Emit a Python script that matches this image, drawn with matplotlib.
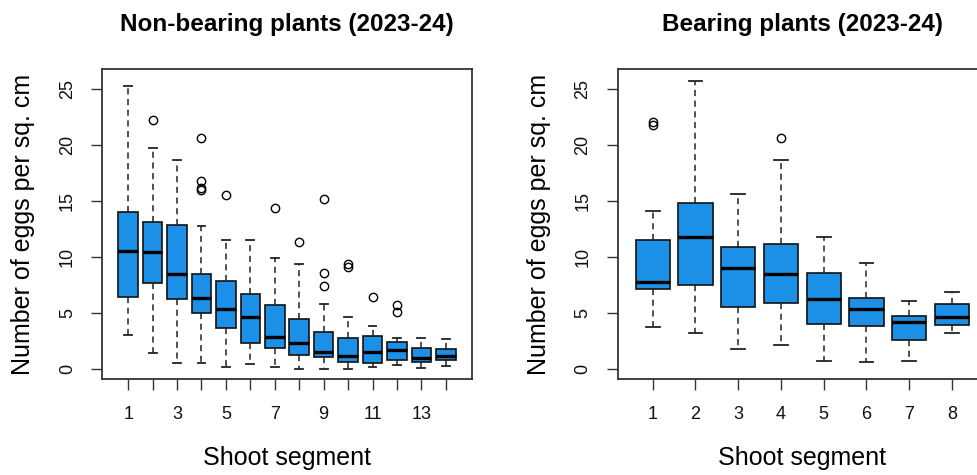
import matplotlib
matplotlib.use("Agg")
import matplotlib.pyplot as plt

# Non-bearing plants, 14 shoot segments
nb_segments = list(range(1, 15))
nb_whislo = [3.0, 1.46, 0.54, 0.54, 0.21, 0.45, 0.15, 0.0, 0.0, 0.0, 0.21, 0.33, 0.09, 0.24]
nb_q1 = [6.43, 7.65, 6.22, 4.97, 3.66, 2.29, 1.87, 1.25, 1.1, 0.63, 0.57, 0.83, 0.65, 0.83]
nb_med = [10.57, 10.48, 8.5, 6.34, 5.33, 4.64, 2.89, 2.29, 1.55, 1.16, 1.52, 1.7, 0.95, 1.19]
nb_q3 = [14.05, 13.1, 12.9, 8.5, 7.89, 6.73, 5.68, 4.5, 3.33, 2.8, 2.92, 2.38, 1.87, 1.76]
nb_whishi = [25.27, 19.73, 18.63, 12.74, 11.55, 11.55, 9.88, 9.35, 5.77, 4.67, 3.8, 2.8, 2.8, 2.71]
nb_fliers = [[], [22.2], [], [20.6, 16.75, 16.2, 16.0], [15.57], [], [14.35], [11.34],
             [15.18, 8.6, 7.44], [9.37, 9.08], [6.4], [5.71, 5.12], [], []]
nb_ticklabels = [str(s) if s % 2 == 1 else "" for s in nb_segments]

# Bearing plants, 8 shoot segments
b_segments = list(range(1, 9))
b_whislo = [3.72, 3.19, 1.76, 2.17, 0.71, 0.63, 0.71, 3.19]
b_q1 = [7.14, 7.47, 5.5, 5.89, 4.02, 3.81, 2.62, 3.9]
b_med = [7.8, 11.79, 9.05, 8.51, 6.25, 5.39, 4.17, 4.64]
b_q3 = [11.52, 14.85, 10.86, 11.19, 8.6, 6.34, 4.76, 5.77]
b_whishi = [14.14, 25.74, 15.6, 18.63, 11.79, 9.43, 6.04, 6.85]
b_fliers = [[22.1, 21.8], [], [], [20.62], [], [], [], []]
b_ticklabels = [str(s) for s in b_segments]

plt.rcParams['font.family'] = ['Liberation Sans', 'DejaVu Sans']

fig = plt.figure(figsize=(9.77, 4.75), dpi=100)
ax1 = fig.add_axes([0.1047, 0.2015, 0.3781, 0.6533])
ax2 = fig.add_axes([0.6322, 0.2015, 0.3781, 0.6533])


def draw(ax, segs, lo, q1, med, q3, hi, fl, labels, title):
    stats = []
    for i in range(len(segs)):
        stats.append(dict(whislo=lo[i], q1=q1[i], med=med[i], q3=q3[i],
                          whishi=hi[i], fliers=fl[i]))
    ax.bxp(stats, positions=segs, widths=0.8, patch_artist=True,
           boxprops=dict(facecolor='#1C8FE6', edgecolor='#111111', linewidth=1.2),
           medianprops=dict(color='black', linewidth=2.4, solid_capstyle='butt'),
           whiskerprops=dict(color='#222222', linewidth=1.1, linestyle=(0, (4, 3))),
           capprops=dict(color='#222222', linewidth=1.3),
           capwidths=0.32,
           flierprops=dict(marker='o', markersize=6, markerfacecolor='none',
                           markeredgecolor='black', markeredgewidth=1.0))
    n = len(segs)
    pad = 0.04 * n
    ax.set_xlim(0.5 - pad, n + 0.5 + pad)
    ax.set_ylim(-0.92, 26.8)
    ax.set_yticks([0, 5, 10, 15, 20, 25])
    ax.set_yticklabels(['0', '5', '10', '15', '20', '25'], rotation=90, va='center')
    ax.set_xticks(segs)
    ax.set_xticklabels(labels)
    ax.tick_params(axis='both', labelsize=13, length=8, width=1, color='#333333',
                   labelcolor='#111111', pad=11)
    for s in ax.spines.values():
        s.set_color('#333333')
        s.set_linewidth(1.3)
    ax.set_title(title, fontsize=17.5, fontweight='bold', pad=27)
    ax.set_xlabel('Shoot segment', fontsize=18, labelpad=17)
    ax.set_ylabel('Number of eggs per sq. cm', fontsize=18, labelpad=17)


draw(ax1, nb_segments, nb_whislo, nb_q1, nb_med, nb_q3, nb_whishi, nb_fliers,
     nb_ticklabels, 'Non-bearing plants (2023-24)')
draw(ax2, b_segments, b_whislo, b_q1, b_med, b_q3, b_whishi, b_fliers,
     b_ticklabels, 'Bearing plants (2023-24)')

fig.savefig('out.png', dpi=100)
